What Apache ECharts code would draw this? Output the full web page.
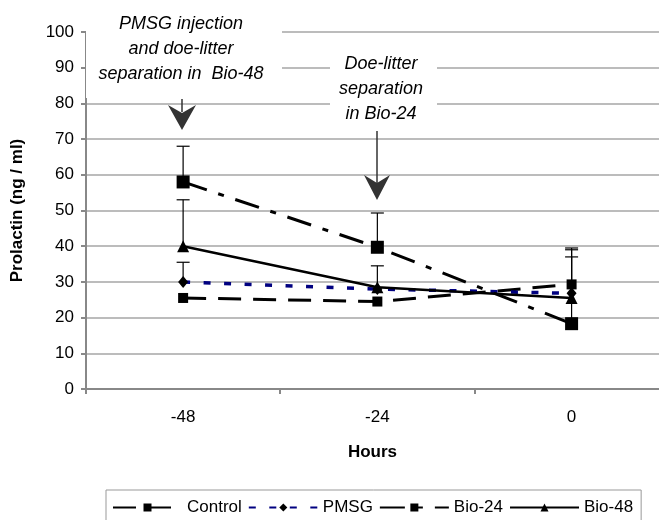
<!DOCTYPE html>
<html>
<head>
<meta charset="utf-8">
<script src="https://cdn.jsdelivr.net/npm/echarts@6/dist/echarts.min.js"></script>
<style>
html, body { margin: 0; padding: 0; background: #fff; }
#chart { width: 659px; height: 520px; }
</style>
</head>
<body>
<div id="chart"></div>
<script>
var hours = [-48, -24, 0]
var hourTicks = [-60, -36, -12]
var control = [25.5, 24.5, 29.3]
var pmsg = [30, 28, 26.8]
var bio24 = [58, 39.7, 18.3]
var bio48 = [40, 28.5, 25.5]
// top of the error bars, null where none is drawn
var controlTop = [null, null, 39.5]
var pmsgTop = [35.5, null, 39]
var bio24Top = [68, 49.3, 37]
var bio48Top = [53, 34.5, null]

function pairs(vals) {
  return vals.map(function (v, i) { return [hours[i], v] })
}

var errData = []
function addErr(means, tops) {
  for (var i = 0; i < means.length; i++) {
    if (tops[i] != null) errData.push([hours[i], means[i], tops[i]])
  }
}
addErr(control, controlTop)
addErr(pmsg, pmsgTop)
addErr(bio24, bio24Top)
addErr(bio48, bio48Top)

function renderErr(params, api) {
  var lo = api.coord([api.value(0), api.value(1)])
  var hi = api.coord([api.value(0), api.value(2)])
  var st = { stroke: '#000', lineWidth: 1.2 }
  return {
    type: 'group',
    children: [
      { type: 'line', shape: { x1: lo[0], y1: lo[1], x2: hi[0], y2: hi[1] }, style: st },
      { type: 'line', shape: { x1: hi[0] - 6.5, y1: hi[1], x2: hi[0] + 6.5, y2: hi[1] }, style: st }
    ]
  }
}

var font = '"Liberation Sans", Arial, sans-serif'
var myChart = echarts.init(document.getElementById('chart'))

var option = {
  backgroundColor: '#fff',
  animation: false,
  grid: { left: 86, right: 0, top: 32, bottom: 131 },
  legend: {
    left: 106,
    top: 490,
    padding: [9, 8, 14, 6],
    borderColor: '#999',
    borderWidth: 1,
    itemWidth: 69,
    itemHeight: 10,
    itemGap: 6,
    textStyle: { fontFamily: font, fontSize: 17, color: '#000' },
    data: ['Control', 'PMSG', 'Bio-24', 'Bio-48']
  },
  xAxis: {
    type: 'value',
    min: -60,
    max: 10.8,
    name: 'Hours',
    nameLocation: 'middle',
    nameGap: 55,
    nameTextStyle: { fontFamily: font, fontSize: 17, fontWeight: 'bold', color: '#000' },
    axisLine: { onZero: false, lineStyle: { color: '#888', width: 2 } },
    axisTick: { show: true, length: 5, customValues: hourTicks, lineStyle: { color: '#888', width: 2 } },
    axisLabel: { fontFamily: font, fontSize: 17, color: '#000', margin: 20, customValues: hours },
    splitLine: { show: false }
  },
  yAxis: {
    type: 'value',
    min: 0,
    max: 100,
    interval: 10,
    name: 'Prolactin (ng / ml)',
    nameLocation: 'middle',
    nameGap: 60,
    nameTextStyle: { fontFamily: font, fontSize: 17, fontWeight: 'bold', color: '#000' },
    axisLine: { show: true, onZero: false, lineStyle: { color: '#888', width: 2 } },
    axisTick: { show: true, length: 5, lineStyle: { color: '#888', width: 2 } },
    axisLabel: { fontFamily: font, fontSize: 17, color: '#000', margin: 12 },
    splitLine: { lineStyle: { color: '#a6a6a6', width: 1.5 } }
  },
  series: [
    {
      type: 'custom',
      name: 'err',
      renderItem: renderErr,
      encode: { x: 0, y: [1, 2] },
      data: errData,
      z: 1
    },
    {
      name: 'Control',
      type: 'line',
      data: pairs(control),
      symbol: 'rect',
      symbolSize: 10,
      itemStyle: { color: '#000' },
      lineStyle: { color: '#000', width: 3, type: [23, 12] },
      z: 3
    },
    {
      name: 'PMSG',
      type: 'line',
      data: pairs(pmsg),
      symbol: 'diamond',
      symbolSize: [10, 12],
      itemStyle: { color: '#000' },
      lineStyle: { color: '#000080', width: 3.5, type: [7, 13.5] },
      z: 3
    },
    {
      name: 'Bio-24',
      type: 'line',
      data: pairs(bio24),
      symbol: 'rect',
      symbolSize: 13,
      itemStyle: { color: '#000' },
      lineStyle: { color: '#000', width: 3, type: [25, 12, 6, 12] },
      z: 3
    },
    {
      name: 'Bio-48',
      type: 'line',
      data: pairs(bio48),
      symbol: 'triangle',
      symbolSize: 12,
      itemStyle: { color: '#000' },
      lineStyle: { color: '#000', width: 2.5 },
      z: 3
    }
  ],
  graphic: [
    { type: 'rect', z: 100, shape: { x: 86, y: 0, width: 196, height: 98 }, style: { fill: '#fff' } },
    { type: 'rect', z: 100, shape: { x: 330, y: 45, width: 107, height: 83 }, style: { fill: '#fff' } },
    {
      type: 'text', z: 101, x: 181, y: 49,
      style: {
        text: 'PMSG injection\nand doe-litter\nseparation in  Bio-48',
        align: 'center', verticalAlign: 'middle',
        font: 'italic 18px ' + font, lineHeight: 25, fill: '#000'
      }
    },
    {
      type: 'text', z: 101, x: 381, y: 89,
      style: {
        text: 'Doe-litter\nseparation\nin Bio-24',
        align: 'center', verticalAlign: 'middle',
        font: 'italic 18px ' + font, lineHeight: 25, fill: '#000'
      }
    },
    // arrows
    { type: 'line', z: 101, shape: { x1: 182, y1: 99, x2: 182, y2: 112 }, style: { stroke: '#333', lineWidth: 1.5 } },
    { type: 'polygon', z: 101, shape: { points: [[182, 130], [168, 105], [182, 113], [196, 105]] }, style: { fill: '#333' } },
    { type: 'line', z: 101, shape: { x1: 377, y1: 131, x2: 377, y2: 185 }, style: { stroke: '#333', lineWidth: 1.5 } },
    { type: 'polygon', z: 101, shape: { points: [[377, 200], [364, 175], [377, 183], [390, 175]] }, style: { fill: '#333' } }
  ]
}

myChart.setOption(option, true)
window.addEventListener('resize', () => {
  myChart.resize()
})
</script>
</body>
</html>
